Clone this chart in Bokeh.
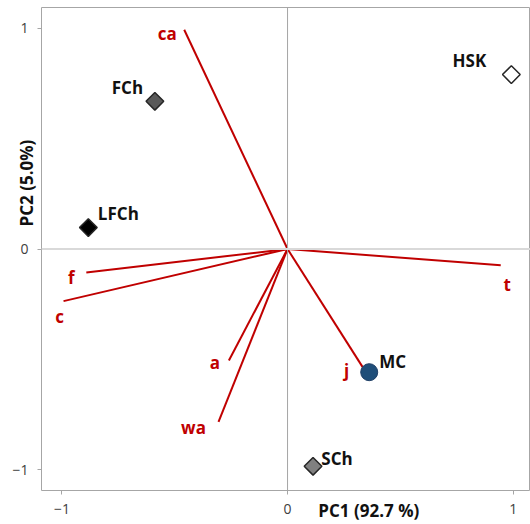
import math
from bokeh.plotting import figure
from bokeh.models import Range1d, FixedTicker, Span, LinearAxis, ColumnDataSource
from bokeh.core.properties import value
from bokeh.embed import file_html
from bokeh.resources import INLINE

# ---- data ----
sample_names = ["HSK", "FCh", "LFCh", "MC", "SCh"]
sample_pc1 = [0.992, -0.588, -0.883, 0.362, 0.113]
sample_pc2 = [0.790, 0.669, 0.097, -0.558, -0.984]

var_names = ["ca", "f", "c", "a", "wa", "j", "t"]
var_pc1 = [-0.458, -0.892, -0.993, -0.260, -0.306, 0.333, 0.945]
var_pc2 = [0.993, -0.106, -0.236, -0.505, -0.783, -0.535, -0.074]

tick_values = [-1, 0, 1]
x_title = "PC1 (92.7 %)"
y_title = "PC2 (5.0%)"

# ---- styles ----
RED = "#C00000"
FONT = "Open Sans"
diamond_fill = {"HSK": "white", "FCh": "#595959", "LFCh": "black", "SCh": "#808080"}
label_dx = {"HSK": -42, "FCh": -27.5, "LFCh": 30, "MC": 23.5, "SCh": 24}
label_dy = {"HSK": -14, "FCh": -13.5, "LFCh": -14, "MC": -11, "SCh": -8}
var_dx = {"ca": -17, "f": -15, "c": -4, "a": -14, "wa": -25, "j": -16, "t": 6.5}
var_dy = {"ca": 4, "f": 5, "c": 15, "a": 2, "wa": 6, "j": 3, "t": 19}
x_title_at = 0.36    # position of the axis title along the x axis
y_title_at = 0.495   # position (end of text) of the axis title along the y axis

p = figure(width=530, height=524, output_backend="svg", toolbar_location=None,
           x_range=Range1d(-1.0906, 1.0769), y_range=Range1d(-1.0938, 1.0938),
           min_border_left=40, min_border_right=0, min_border_top=7, min_border_bottom=32)
p.grid.visible = False
p.outline_line_color = "#A6A6A6"
p.outline_line_width = 1
p.background_fill_color = "white"
p.border_fill_color = "white"

for ax in (p.xaxis[0], p.yaxis[0]):
    ax.ticker = FixedTicker(ticks=tick_values)
    ax.axis_line_color = None
    ax.major_tick_line_color = "#A6A6A6"
    ax.major_tick_in = 0
    ax.major_tick_out = 4
    ax.minor_tick_line_color = None
    ax.major_label_text_font = FONT
    ax.major_label_text_font_size = "14px"
    ax.major_label_text_color = "#404040"
p.xaxis.major_label_standoff = 9
p.yaxis.major_label_standoff = 9

# axis titles as extra axes carrying one labelled tick each
xt = LinearAxis(ticker=FixedTicker(ticks=[x_title_at]),
                major_label_overrides={x_title_at: x_title})
yt = LinearAxis(ticker=FixedTicker(ticks=[y_title_at]),
                major_label_overrides={y_title_at: y_title},
                major_label_orientation=math.pi / 2)
for ax in (xt, yt):
    ax.axis_line_color = None
    ax.major_tick_line_color = None
    ax.minor_tick_line_color = None
    ax.major_tick_in = 0
    ax.major_tick_out = 0
    ax.minor_tick_in = 0
    ax.minor_tick_out = 0
    ax.major_label_text_font = FONT
    ax.major_label_text_font_style = "bold"
    ax.major_label_text_font_size = "17px"
    ax.major_label_text_color = "#111111"
xt.major_label_standoff = -18
yt.major_label_standoff = -17
p.add_layout(xt, "below")
p.add_layout(yt, "left")

p.add_layout(Span(location=0, dimension="height", line_color="#A6A6A6", line_width=1))
p.add_layout(Span(location=0, dimension="width", line_color="#D9D9D9", line_width=2))

# loading vectors
vsrc = ColumnDataSource(dict(x0=[0] * len(var_names), y0=[0] * len(var_names),
                             x1=var_pc1, y1=var_pc2, name=var_names,
                             dx=[var_dx[n] for n in var_names],
                             dy=[var_dy[n] for n in var_names]))
p.segment(x0="x0", y0="y0", x1="x1", y1="y1", source=vsrc, line_color=RED, line_width=2)
p.text(x="x1", y="y1", text="name", source=vsrc, x_offset="dx", y_offset="dy",
       text_color=RED, text_font=value(FONT), text_font_style="bold",
       text_font_size="17px", text_align="center", text_baseline="alphabetic")

# samples
d_idx = [i for i, n in enumerate(sample_names) if n != "MC"]
dsrc = ColumnDataSource(dict(x=[sample_pc1[i] for i in d_idx], y=[sample_pc2[i] for i in d_idx],
                             fill=[diamond_fill[sample_names[i]] for i in d_idx]))
p.scatter(x="x", y="y", source=dsrc, marker="square", angle=math.pi / 4, size=12.5,
          fill_color="fill", line_color="#262626", line_width=1.5)
m = sample_names.index("MC")
p.scatter(x=[sample_pc1[m]], y=[sample_pc2[m]], marker="circle", size=17,
          fill_color="#1F4E79", line_color="#1F3F66", line_width=1)

ssrc = ColumnDataSource(dict(x=sample_pc1, y=sample_pc2, name=sample_names,
                             dx=[label_dx[n] for n in sample_names],
                             dy=[label_dy[n] for n in sample_names]))
p.text(x="x", y="y", text="name", source=ssrc, x_offset="dx", y_offset="dy",
       text_color="#111111", text_font=value(FONT), text_font_style="bold",
       text_font_size="17px", text_align="center", text_baseline="alphabetic")

open("out.html", "w").write(file_html(p, INLINE))
